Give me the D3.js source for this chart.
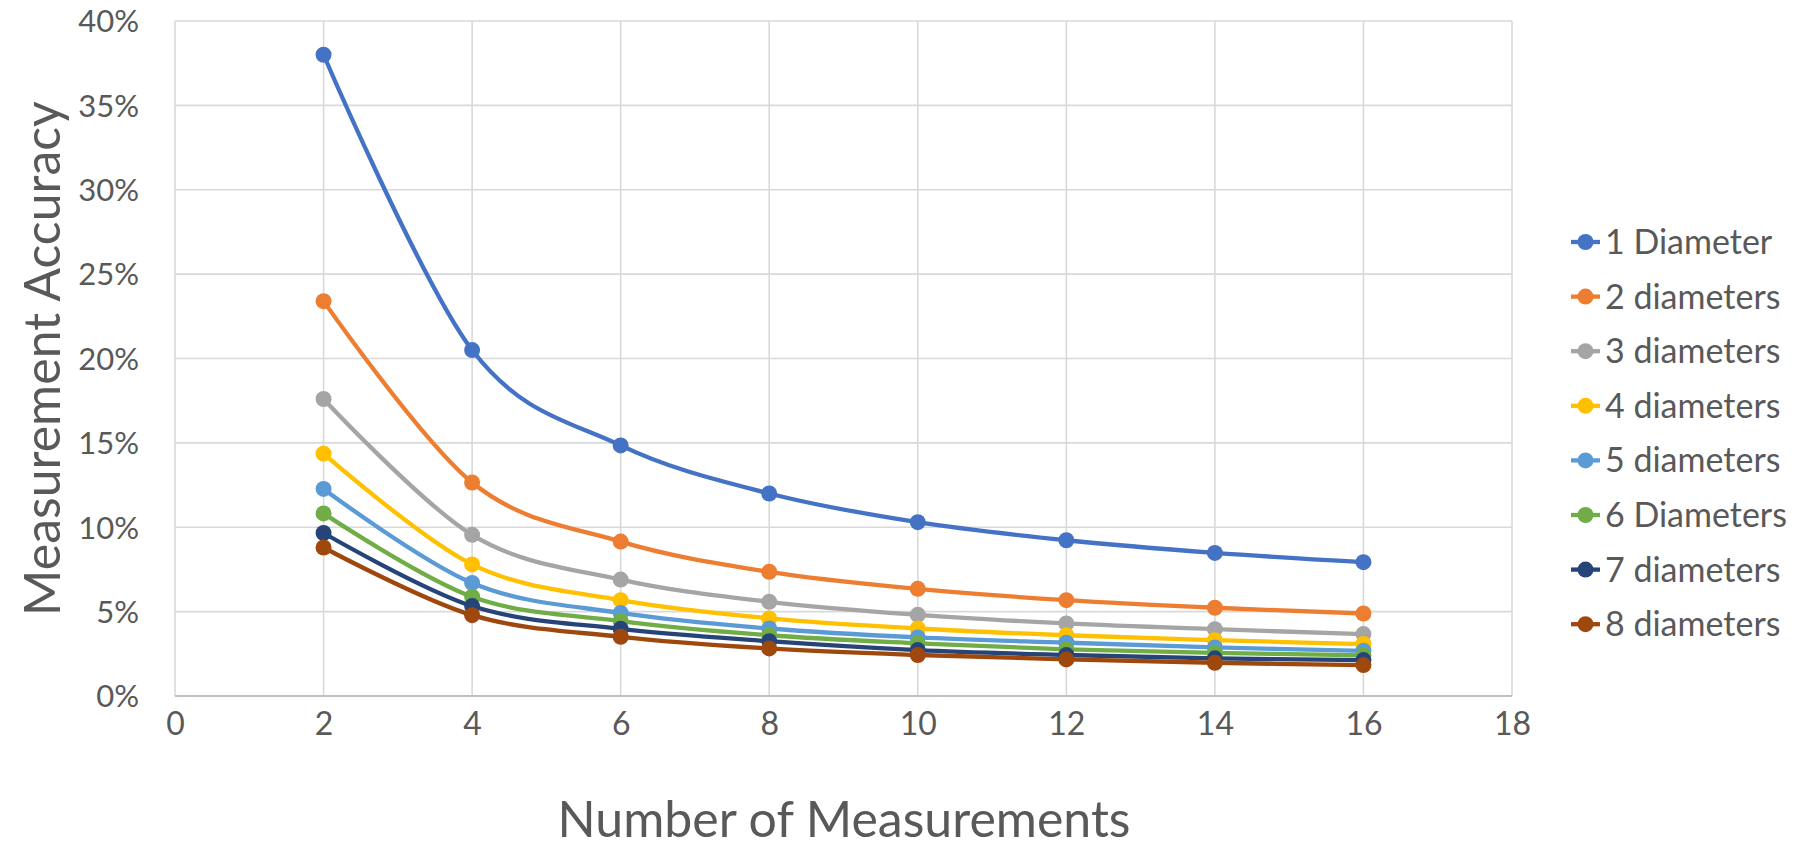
<!DOCTYPE html>
<html>
<head>
<meta charset="utf-8">
<script src="https://cdn.jsdelivr.net/npm/d3@7"></script>
<style>
  body { margin: 0; background: #fff; }
  text { font-family: Lato, "Open Sans", sans-serif; fill: #595959; }
</style>
</head>
<body>
<svg id="chart" width="1795" height="842"></svg>
<script>
// number of measurements (x)
var measurements = [2, 4, 6, 8, 10, 12, 14, 16];

var seriesNames = ["1 Diameter", "2 diameters", "3 diameters", "4 diameters",
                   "5 diameters", "6 Diameters", "7 diameters", "8 diameters"];
var seriesColors = ["#4472C4", "#ED7D31", "#A5A5A5", "#FFC000",
                    "#5B9BD5", "#70AD47", "#264478", "#9E480E"];

// accuracy in %, one array per series
var dia1 = [38.0, 20.5, 14.85, 12.0, 10.3, 9.23, 8.48, 7.93];
var dia2 = [23.4, 12.65, 9.15, 7.36, 6.35, 5.68, 5.23, 4.89];
var dia3 = [17.6, 9.55, 6.9, 5.58, 4.81, 4.3, 3.96, 3.67];
var dia4 = [14.36, 7.8, 5.68, 4.6, 4.0, 3.6, 3.31, 3.08];
var dia5 = [12.27, 6.7, 4.92, 4.0, 3.47, 3.16, 2.88, 2.68];
var dia6 = [10.82, 5.88, 4.44, 3.6, 3.12, 2.76, 2.56, 2.41];
var dia7 = [9.66, 5.33, 3.98, 3.25, 2.72, 2.43, 2.23, 2.13];
var dia8 = [8.8, 4.79, 3.51, 2.82, 2.43, 2.17, 1.97, 1.83];

var xTicks = [0, 2, 4, 6, 8, 10, 12, 14, 16, 18];
var yTicks = [0, 5, 10, 15, 20, 25, 30, 35, 40];

var allSeries = [dia1, dia2, dia3, dia4, dia5, dia6, dia7, dia8];

var svg = d3.select("#chart"),
    plotLeft = 175, plotRight = 1512, plotTop = 21, plotBottom = 696;

var x = d3.scaleLinear().domain([0, 18]).range([plotLeft, plotRight]);
var y = d3.scaleLinear().domain([0, 40]).range([plotBottom, plotTop]);

// gridlines
svg.append("g").selectAll("line")
    .data(yTicks.slice(1))
    .enter().append("line")
    .attr("x1", plotLeft).attr("x2", plotRight)
    .attr("y1", function(d) { return y(d); }).attr("y2", function(d) { return y(d); })
    .attr("stroke", "#d9d9d9").attr("stroke-width", 1.6);

svg.append("g").selectAll("line")
    .data(xTicks)
    .enter().append("line")
    .attr("x1", function(d) { return x(d); }).attr("x2", function(d) { return x(d); })
    .attr("y1", plotTop).attr("y2", plotBottom)
    .attr("stroke", "#d9d9d9").attr("stroke-width", 1.6);

// x axis line
svg.append("line")
    .attr("x1", plotLeft).attr("x2", plotRight).attr("y1", plotBottom).attr("y2", plotBottom)
    .attr("stroke", "#bfbfbf").attr("stroke-width", 2);

// tick labels
var xAxis = d3.axisBottom(x).tickValues(xTicks).tickSize(0).tickPadding(0);
var gx = svg.append("g").attr("transform", "translate(0," + plotBottom + ")").call(xAxis);
gx.select(".domain").remove();
gx.selectAll("text").attr("y", 28).attr("dy", "0.35em")
    .style("font-size", "32px").style("font-family", "Lato").attr("fill", "#595959");

var yAxis = d3.axisLeft(y).tickValues(yTicks).tickSize(0).tickPadding(0)
    .tickFormat(function(d) { return d + "%"; });
var gy = svg.append("g").attr("transform", "translate(139,0)").call(yAxis);
gy.select(".domain").remove();
gy.selectAll("text").attr("x", 0).attr("dy", "0.35em")
    .style("font-size", "31px").style("font-family", "Lato").attr("fill", "#595959");

// series
var line = d3.line()
    .x(function(d, i) { return x(measurements[i]); })
    .y(function(d) { return y(d); })
    .curve(d3.curveCardinal.tension(0));

allSeries.forEach(function(values, k) {
    var g = svg.append("g");
    g.append("path")
        .attr("d", line(values))
        .attr("fill", "none")
        .attr("stroke", seriesColors[k])
        .attr("stroke-width", 4.3)
        .attr("stroke-linejoin", "round");
    g.selectAll("circle")
        .data(values)
        .enter().append("circle")
        .attr("cx", function(d, i) { return x(measurements[i]); })
        .attr("cy", function(d) { return y(d); })
        .attr("r", 8)
        .attr("fill", seriesColors[k]);
});

// axis titles
svg.append("text")
    .attr("transform", "translate(42," + (plotTop + plotBottom) / 2 + ") rotate(-90)")
    .attr("text-anchor", "middle").attr("dy", "0.35em")
    .style("font-size", "50px")
    .text("Measurement Accuracy");

svg.append("text")
    .attr("x", 844).attr("y", 819)
    .attr("text-anchor", "middle").attr("dy", "0.35em")
    .style("font-size", "50px")
    .text("Number of Measurements");

// legend
var legend = svg.append("g").selectAll("g")
    .data(seriesNames)
    .enter().append("g")
    .attr("transform", function(d, i) { return "translate(1571," + (242 + i * 54.6) + ")"; });

legend.append("line")
    .attr("x1", 0).attr("x2", 29)
    .attr("stroke", function(d, i) { return seriesColors[i]; })
    .attr("stroke-width", 4.3);
legend.append("circle")
    .attr("cx", 14.5).attr("r", 8)
    .attr("fill", function(d, i) { return seriesColors[i]; });
legend.append("text")
    .attr("x", 34).attr("dy", "0.35em")
    .style("font-size", "34px")
    .text(function(d) { return d; });
</script>
</body>
</html>
